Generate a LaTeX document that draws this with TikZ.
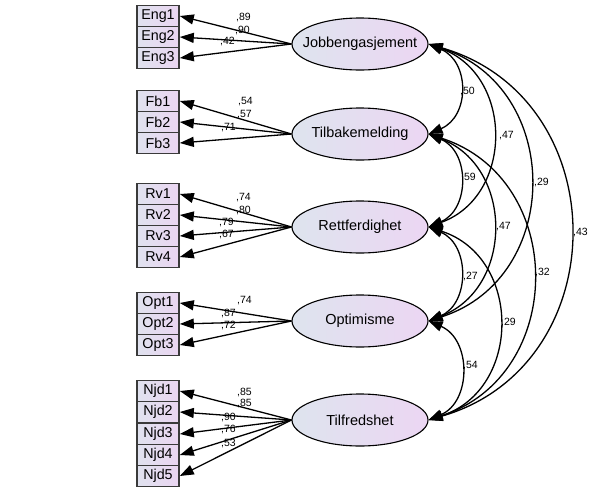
\documentclass[tikz,border=0pt]{standalone}
\usepackage{fontspec}
\setmainfont{Liberation Sans}
\usetikzlibrary{shapes.geometric,arrows.meta}
\definecolor{bxL}{HTML}{E0E2EF}
\definecolor{bxR}{HTML}{EAD5F1}
\definecolor{elL}{HTML}{DEE4EE}
\definecolor{elR}{HTML}{ECD6F3}
\definecolor{bord}{HTML}{3A3A3A}
\begin{document}
\begin{tikzpicture}[x=1pt,y=-1pt,
 latent/.style={ellipse, draw=black, line width=1.1pt, left color=elL, right color=elR, minimum width=136pt, minimum height=52pt, inner sep=0pt, font=\fontsize{14.5}{16}\selectfont},
 obs/.style={rectangle, draw=bord, line width=1.6pt, left color=bxL, right color=bxR, minimum width=42pt, minimum height=21pt, inner sep=0pt, font=\fontsize{14.3}{16}\selectfont},
 load/.style={-{Triangle[length=14pt,width=10pt]}, line width=1.3pt},
 cov/.style={{Triangle[length=14pt,width=10pt]}-{Triangle[length=14pt,width=10pt]}, line width=1.3pt},
 coef/.style={anchor=west, inner sep=0pt, font=\fontsize{10.5}{12}\selectfont}
]
\useasboundingbox (0,0) rectangle (595,493);
\fill[white] (0,0) rectangle (595,493);

% latent variables
\node[latent] (job) at (360,44) {\makebox[0pt]{Jobbengasjement}};
\node[latent] (tb) at (360,134) {\makebox[0pt]{Tilbakemelding}};
\node[latent] (rf) at (360,227) {\makebox[0pt]{Rettferdighet}};
\node[latent] (op) at (360,321) {\makebox[0pt]{Optimisme}};
\node[latent] (tf) at (360,420) {\makebox[0pt]{Tilfredshet}};

% observed variables
\node[obs] (eng1) at (158,16) {Eng1};
\node[obs] (eng2) at (158,37) {Eng2};
\node[obs] (eng3) at (158,58) {Eng3};
\node[obs] (fb1) at (158,101) {Fb1};
\node[obs] (fb2) at (158,122) {Fb2};
\node[obs] (fb3) at (158,143) {Fb3};
\node[obs] (rv1) at (158,194) {Rv1};
\node[obs] (rv2) at (158,215) {Rv2};
\node[obs] (rv3) at (158,236) {Rv3};
\node[obs] (rv4) at (158,257) {Rv4};
\node[obs] (opt1) at (158,303) {Opt1};
\node[obs] (opt2) at (158,324) {Opt2};
\node[obs] (opt3) at (158,345) {Opt3};
\node[obs] (njd1) at (158,391) {Njd1};
\node[obs] (njd2) at (158,412) {Njd2};
\node[obs] (njd3) at (158,434) {Njd3};
\node[obs] (njd4) at (158,455) {Njd4};
\node[obs] (njd5) at (158,476) {Njd5};

% loadings
\foreach \l/\o in {job/eng1,job/eng2,job/eng3,tb/fb1,tb/fb2,tb/fb3,rf/rv1,rf/rv2,rf/rv3,rf/rv4,op/opt1,op/opt2,op/opt3,tf/njd1,tf/njd2,tf/njd3,tf/njd4,tf/njd5}
  \draw[load] (\l.west) -- (\o.east);

% loading coefficients
\node[coef] (c1) at (236,18) {,89};
\node[coef] (c2) at (235,31) {,90};
\node[coef] (c3) at (220,42) {,42};
\node[coef] (c4) at (238,102) {,54};
\node[coef] (c5) at (237,115) {,57};
\node[coef] (c6) at (221,128) {,71};
\node[coef] (c7) at (236,198) {,74};
\node[coef] (c8) at (236,211) {,80};
\node[coef] (c9) at (219,223) {,79};
\node[coef] (c10) at (219,235) {,67};
\node[coef] (c11) at (237,301) {,74};
\node[coef] (c12) at (221,314) {,87};
\node[coef] (c13) at (221,326) {,72};
\node[coef] (c14) at (237,393) {,85};
\node[coef] (c15) at (237,404) {,85};
\node[coef] (c16) at (221,418) {,90};
\node[coef] (c17) at (221,430) {,76};
\node[coef] (c18) at (221,443) {,53};

% covariances
\draw[cov] (job.east) .. controls +(41.4,17.7) and +(41.4,-17.7) .. (tb.east);
\draw[cov] (tb.east) .. controls +(41.4,17.7) and +(41.4,-17.7) .. (rf.east);
\draw[cov] (rf.east) .. controls +(41.4,17.7) and +(41.4,-17.7) .. (op.east);
\draw[cov] (op.east) .. controls +(43,18.5) and +(43,-18.5) .. (tf.east);
\draw[cov] (job.east) .. controls +(85.3,31.2) and +(85.3,-31.2) .. (rf.east);
\draw[cov] (tb.east) .. controls +(85.4,33.1) and +(85.4,-33.1) .. (op.east);
\draw[cov] (rf.east) .. controls +(93.5,30.4) and +(93.5,-30.4) .. (tf.east);
\draw[cov] (job.east) .. controls +(134.8,43.3) and +(134.8,-43.3) .. (op.east);
\draw[cov] (tb.east) .. controls +(138.5,45) and +(138.5,-45) .. (tf.east);
\draw[cov] (job.east) .. controls +(188.3,54.7) and +(188.3,-54.7) .. (tf.east);

% covariance coefficients
\node[coef] (k1) at (460,92) {,50};
\node[coef] (k2) at (499,136) {,47};
\node[coef] (k3) at (534,183) {,29};
\node[coef] (k4) at (461,178) {,59};
\node[coef] (k5) at (496,227) {,47};
\node[coef] (k6) at (573,233) {,43};
\node[coef] (k7) at (463,277) {,27};
\node[coef] (k8) at (535,273) {,32};
\node[coef] (k9) at (501,323) {,29};
\node[coef] (k10) at (463,366) {,54};
\end{tikzpicture}
\end{document}
